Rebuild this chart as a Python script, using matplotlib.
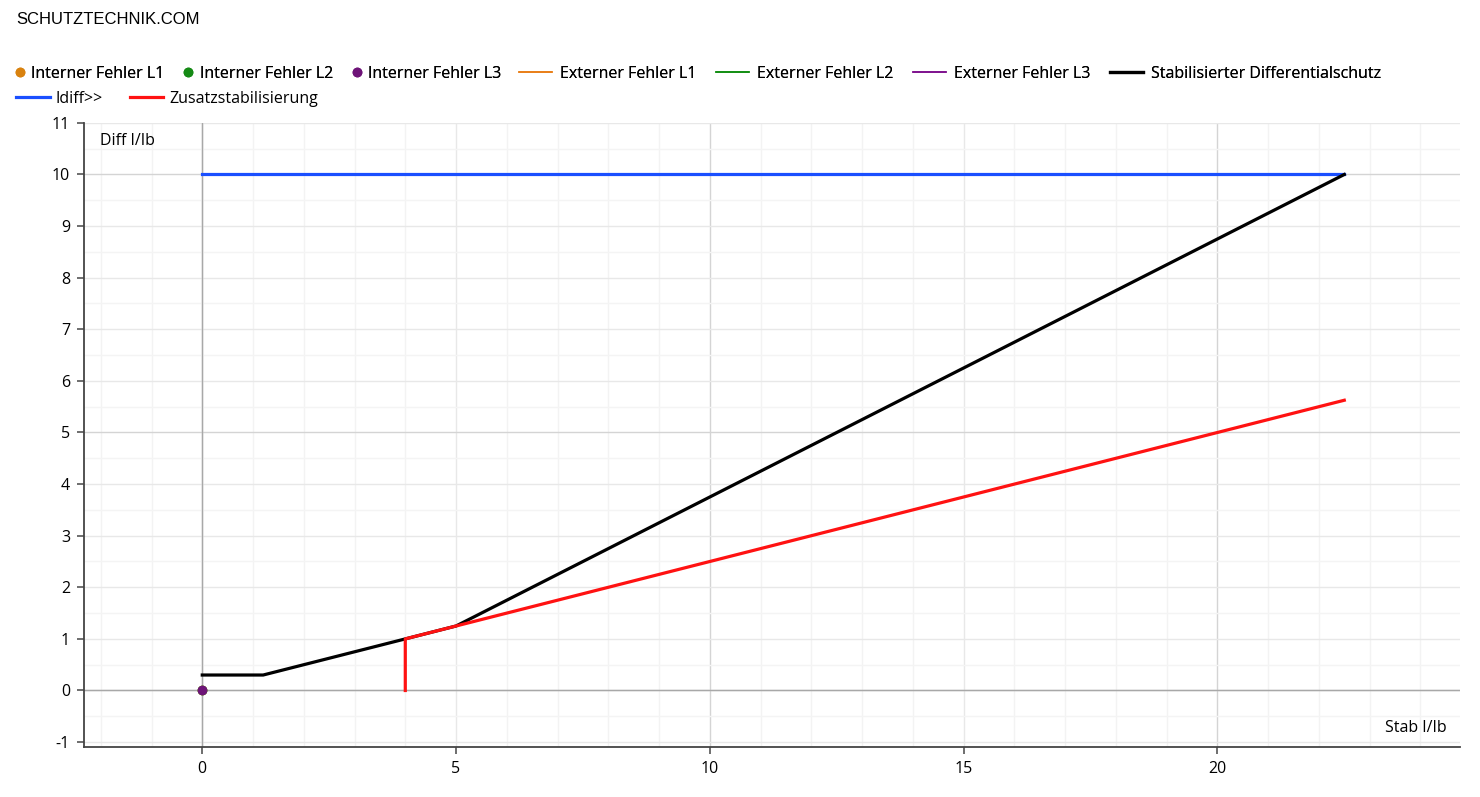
import matplotlib
matplotlib.use("Agg")
import matplotlib.pyplot as plt
from matplotlib.ticker import MultipleLocator
from matplotlib.lines import Line2D

# data
stab_black = [0, 1.2, 4, 5, 22.5]
diff_black = [0.3, 0.3, 1.0, 1.25, 10.0]
stab_red = [4, 4, 5, 22.5]
diff_red = [0, 1.0, 1.25, 5.625]
stab_blue = [0, 22.5]
diff_blue = [10, 10]
intern_l1 = (0, 0)
intern_l2 = (0, 0)
intern_l3 = (0, 0)
extern_x = []
extern_y = []

c_orange = "#d9820f"
c_green = "#158a15"
c_purple = "#6e1478"
c_ext_orange = "#e87a10"
c_ext_green = "#0a8a0a"
c_ext_purple = "#7a0a8a"
c_blue = "#1a4fff"
c_red = "#ff1212"

plt.rcParams['font.family'] = ['Open Sans', 'DejaVu Sans']
plt.rcParams['axes.unicode_minus'] = False

W, H = 1480, 797
fig = plt.figure(figsize=(14.8, 7.97), dpi=100)
ax = fig.add_axes([84/W, (H-747)/H, (1460-84)/W, (747-122.9)/H])

ax.set_xlim(-2.33, 24.78)
ax.set_ylim(-1.095, 11)

ax.xaxis.set_major_locator(MultipleLocator(5))
ax.yaxis.set_major_locator(MultipleLocator(1))

# grid in three strengths
for xv in range(-2, 25):
    col = '#d4d4d4' if xv % 10 == 0 else ('#e8e8e8' if xv % 5 == 0 else '#f3f3f3')
    ax.axvline(xv, color=col, lw=1, zorder=0)
for k in range(-2, 23):
    yv = k / 2
    col = '#d4d4d4' if yv % 5 == 0 else ('#e8e8e8' if yv % 1 == 0 else '#f4f4f4')
    ax.axhline(yv, color=col, lw=1, zorder=0)
ax.axhline(0, color='#a8a8a8', lw=1, zorder=1)
ax.axvline(0, color='#a8a8a8', lw=1, zorder=1)

for s in ['top', 'right']:
    ax.spines[s].set_visible(False)
ax.spines['left'].set_color('#444444')
ax.spines['bottom'].set_color('#444444')
ax.spines['left'].set_linewidth(1.3)
ax.spines['bottom'].set_linewidth(1.3)
ax.spines['left'].set_bounds(-1.095, 11)
ax.tick_params(which='major', length=5, width=1.2, color='#555555', labelsize=11.5, pad=5)

ax.plot(extern_x, extern_y, color=c_ext_orange, lw=1.1)
ax.plot(extern_x, extern_y, color=c_ext_green, lw=1.1)
ax.plot(extern_x, extern_y, color=c_ext_purple, lw=1.1)
ax.plot(stab_blue, diff_blue, color=c_blue, lw=2.3, zorder=3)
ax.plot(stab_black, diff_black, color='black', lw=2.3, zorder=3)
ax.plot(stab_red, diff_red, color=c_red, lw=2.3, zorder=4)
ax.plot(*intern_l1, 'o', color=c_orange, ms=6, zorder=5)
ax.plot(*intern_l2, 'o', color=c_green, ms=6, zorder=5)
ax.plot(*intern_l3, 'o', color=c_purple, ms=6, zorder=6)

ax.text(0.0116, 0.971, 'Diff I/Ib', transform=ax.transAxes, fontsize=11.5, va='center', ha='left')
ax.text(0.9906, 0.030, 'Stab I/Ib', transform=ax.transAxes, fontsize=11.5, va='center', ha='right')

fig.text(16/W, 1 - 19/H, 'SCHUTZTECHNIK.COM', family='Liberation Sans', fontsize=12, va='center')

dots = [Line2D([], [], marker='o', ls='', color=c, ms=6) for c in (c_orange, c_green, c_purple)]
dot_labels = ['Interner Fehler L1', 'Interner Fehler L2', 'Interner Fehler L3']
lines = [Line2D([], [], color=c_ext_orange, lw=1.1),
         Line2D([], [], color=c_ext_green, lw=1.1),
         Line2D([], [], color=c_ext_purple, lw=1.1),
         Line2D([], [], color='black', lw=2.3)]
line_labels = ['Externer Fehler L1', 'Externer Fehler L2', 'Externer Fehler L3',
               'Stabilisierter Differentialschutz']
row2 = [Line2D([], [], color=c_blue, lw=2.3), Line2D([], [], color=c_red, lw=2.3)]
row2_labels = ['Idiff>>', 'Zusatzstabilisierung']

common = dict(frameon=False, fontsize=11.5, borderpad=0, borderaxespad=0, loc='center left')
legA = fig.legend(dots, dot_labels, ncol=3, bbox_to_anchor=(14.5/W, 1 - 74/H),
                  handlelength=0.7, handletextpad=0.35, columnspacing=1.15, **common)
legB = fig.legend(lines, line_labels, ncol=4, bbox_to_anchor=(519/W, 1 - 74/H),
                  handlelength=2.05, handletextpad=0.5, columnspacing=1.25, **common)
legC = fig.legend(row2, row2_labels, ncol=2, bbox_to_anchor=(16/W, 1 - 99/H),
                  handlelength=2.1, handletextpad=0.4, columnspacing=1.67, **common)
fig.add_artist(legA)
fig.add_artist(legB)

fig.savefig('out.png', dpi=100)
